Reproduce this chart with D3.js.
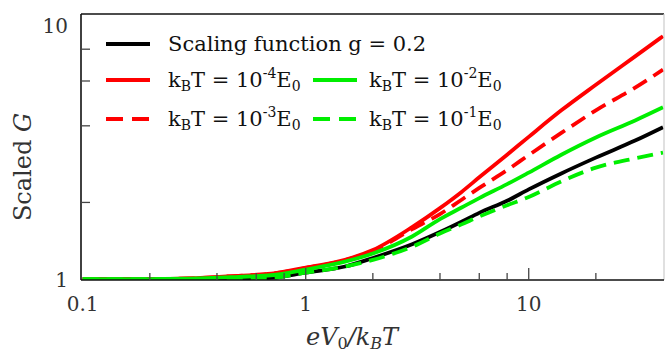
<!DOCTYPE html>
<html>
<head>
<meta charset="utf-8">
<script src="https://cdn.jsdelivr.net/npm/d3@7"></script>
<style>
  html, body { margin: 0; padding: 0; background: #fff; }
  svg { display: block; }
  text { font-family: "DejaVu Serif", serif; }
</style>
</head>
<body>
<svg id="chart" width="665" height="352"></svg>
<script>
// Sample points of eV0/kBT shared by every curve
const xValues = [0.1, 0.2, 0.3, 0.5, 0.7, 1, 1.5, 2, 3, 4, 5, 6, 8, 10, 14, 20, 30, 40];

// Scaled conductance G for each curve
const scalingG  = [1, 1, 1, 1.003, 1.01, 1.06, 1.12, 1.21, 1.37, 1.53, 1.68, 1.82, 2.03, 2.25, 2.6, 3.0, 3.5, 3.95];
const kT4G      = [1, 1, 1.005, 1.03, 1.05, 1.11, 1.19, 1.30, 1.60, 1.90, 2.2, 2.51, 3.08, 3.62, 4.6, 5.8, 7.5, 9.0];
const kT3G      = [1, 1, 1.005, 1.03, 1.05, 1.105, 1.185, 1.29, 1.57, 1.80, 2.05, 2.28, 2.68, 3.07, 3.75, 4.6, 5.65, 6.65];
const kT2G      = [1, 1, 1.003, 1.02, 1.035, 1.09, 1.17, 1.26, 1.47, 1.72, 1.91, 2.08, 2.36, 2.62, 3.08, 3.6, 4.2, 4.73];
const kT1G      = [1, 1, 1, 1.003, 1.01, 1.06, 1.12, 1.19, 1.34, 1.51, 1.64, 1.76, 1.95, 2.1, 2.42, 2.74, 2.98, 3.14];

// Axis ticks
const xMajorTicks = [0.1, 1, 10];
const xMinorTicks = [0.2, 0.4, 0.6, 0.8, 2, 4, 6, 8, 20];
const yMajorTicks = [1, 10];
const yMinorTicks = [2, 4, 6, 8];

const svg = d3.select("#chart");

const plot = { left: 81, right: 664, top: 14, bottom: 280 };

const x = d3.scaleLog().domain([0.1, 40]).range([82.7, 663]);
const y = d3.scaleLog().domain([0.9915, 11]).range([plot.bottom, plot.top]);

// Curves, clipped to the frame
svg.append("clipPath").attr("id", "plotClip")
  .append("rect")
  .attr("x", plot.left).attr("y", plot.top)
  .attr("width", plot.right - plot.left).attr("height", plot.bottom - plot.top);

const series = [
  { values: scalingG, color: "#000000", dash: null },
  { values: kT4G,     color: "#ff0000", dash: null },
  { values: kT3G,     color: "#ff0000", dash: "16,8" },
  { values: kT2G,     color: "#00ee00", dash: null },
  { values: kT1G,     color: "#00ee00", dash: "16,8" }
];

const line = d3.line()
  .x(d => x(d[0]))
  .y(d => y(d[1]))
  .curve(d3.curveMonotoneX);

const curves = svg.append("g").attr("clip-path", "url(#plotClip)");
series.forEach(s => {
  curves.append("path")
    .datum(xValues.map((v, i) => [v, s.values[i]]))
    .attr("d", line)
    .attr("fill", "none")
    .attr("stroke", s.color)
    .attr("stroke-width", 3.8)
    .attr("stroke-dasharray", s.dash)
    .attr("stroke-linejoin", "round");
});

// Frame
svg.append("line").attr("x1", plot.left).attr("x2", plot.right)
  .attr("y1", plot.top).attr("y2", plot.top)
  .attr("stroke", "#111").attr("stroke-width", 1.6);
svg.append("line").attr("x1", plot.right).attr("x2", plot.right)
  .attr("y1", plot.top).attr("y2", plot.bottom)
  .attr("stroke", "#ccc").attr("stroke-width", 1.2);

// Bottom axis
const xAxisG = svg.append("g");
xAxisG.append("line").attr("x1", plot.left).attr("x2", plot.right)
  .attr("y1", plot.bottom).attr("y2", plot.bottom)
  .attr("stroke", "#111").attr("stroke-width", 1.6);
xAxisG.selectAll(".xmaj").data(xMajorTicks.filter(d => d > 0.1)).join("line")
  .attr("x1", d => x(d)).attr("x2", d => x(d))
  .attr("y1", plot.bottom).attr("y2", plot.bottom - 12)
  .attr("stroke", "#444").attr("stroke-width", 1.3);
xAxisG.selectAll(".xmin").data(xMinorTicks).join("line")
  .attr("x1", d => x(d)).attr("x2", d => x(d))
  .attr("y1", plot.bottom).attr("y2", plot.bottom - 7)
  .attr("stroke", "#444").attr("stroke-width", 1.3);
xAxisG.selectAll("text").data(xMajorTicks).join("text")
  .attr("x", d => x(d)).attr("y", 311)
  .attr("text-anchor", "middle")
  .attr("font-size", 20).attr("fill", "#333")
  .text(d => d3.format("~g")(d));

// Left axis
const yAxisG = svg.append("g");
yAxisG.append("line").attr("x1", plot.left).attr("x2", plot.left)
  .attr("y1", plot.top).attr("y2", plot.bottom)
  .attr("stroke", "#111").attr("stroke-width", 1.6);
yAxisG.selectAll(".ymin").data(yMinorTicks).join("line")
  .attr("x1", plot.left).attr("x2", plot.left + 9)
  .attr("y1", d => y(d)).attr("y2", d => y(d))
  .attr("stroke", "#444").attr("stroke-width", 1.3);
yAxisG.selectAll("text").data(yMajorTicks).join("text")
  .attr("x", 68).attr("y", d => y(d) + 8)
  .attr("text-anchor", "end")
  .attr("font-size", 20).attr("fill", "#333")
  .text(d => d3.format("~g")(d));

// Axis titles
const xTitle = svg.append("text")
  .attr("x", 352).attr("y", 345)
  .attr("text-anchor", "middle")
  .attr("font-size", 24).attr("font-style", "italic").attr("fill", "#333");
xTitle.append("tspan").text("eV");
xTitle.append("tspan").attr("font-size", 16).attr("dy", 4).attr("font-style", "normal").text("0");
xTitle.append("tspan").attr("dy", -4).text("/k");
xTitle.append("tspan").attr("font-size", 16).attr("dy", 4).text("B");
xTitle.append("tspan").attr("dy", -4).text("T");

const yTitle = svg.append("text")
  .attr("transform", "translate(31,167) rotate(-90)")
  .attr("text-anchor", "middle")
  .attr("font-size", 24).attr("fill", "#333");
yTitle.append("tspan").text("Scaled ");
yTitle.append("tspan").attr("font-style", "italic").text("G");

// Legend
const legendFont = 21;
const legendItems = [
  { color: "#000000", dash: null,   lx: 106, tx: 168, y: 44,  label: "scaling" },
  { color: "#ff0000", dash: null,   lx: 106, tx: 168, y: 80,  label: "-4" },
  { color: "#ff0000", dash: "17,9", lx: 106, tx: 168, y: 119, label: "-3" },
  { color: "#00ee00", dash: null,   lx: 313, tx: 369, y: 80,  label: "-2" },
  { color: "#00ee00", dash: "17,9", lx: 313, tx: 369, y: 119, label: "-1" }
];
const legend = svg.append("g");
legendItems.forEach(item => {
  legend.append("line")
    .attr("x1", item.lx).attr("x2", item.lx + 44)
    .attr("y1", item.y).attr("y2", item.y)
    .attr("stroke", item.color).attr("stroke-width", 3.8)
    .attr("stroke-dasharray", item.dash);
  const t = legend.append("text")
    .attr("x", item.tx).attr("y", item.y + 7)
    .attr("font-size", legendFont).attr("fill", "#111");
  if (item.label === "scaling") {
    t.text("Scaling function g = 0.2");
  } else {
    t.append("tspan").text("k");
    t.append("tspan").attr("font-size", 14).attr("dy", 4).text("B");
    t.append("tspan").attr("dy", -4).text("T = 10");
    t.append("tspan").attr("font-size", 14).attr("dy", -9).text(item.label);
    t.append("tspan").attr("dy", 9).text("E");
    t.append("tspan").attr("font-size", 14).attr("dy", 4).text("0");
  }
});
</script>
</body>
</html>
